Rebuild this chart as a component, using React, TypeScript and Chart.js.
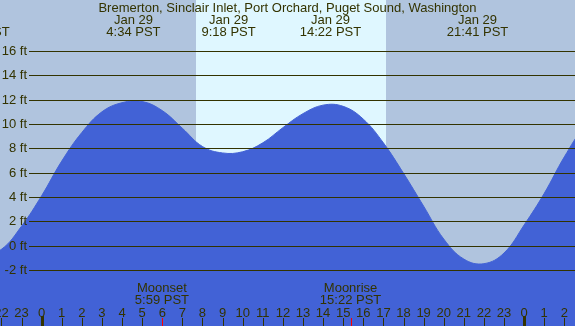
import React, { useEffect, useRef } from "react";
import { Chart, registerables } from "chart.js";

Chart.register(...registerables);

// ---- data ----
const TITLE = "Bremerton, Sinclair Inlet, Port Orchard, Puget Sound, Washington";

// hours relative to Jan 29 00:00 PST, tide height in feet (read hourly)
const TIDE_HOURS = [-4, -3, -2, -1, 0, 1, 2, 3, 4, 5, 6, 7, 8, 9, 10, 11, 12, 13, 14, 15, 16, 17, 18, 19, 20, 21, 22, 23, 24, 25, 26, 27, 28];
const TIDE_FEET = [-0.5, -0.85, -0.3, 1.6, 4.1, 6.95, 9.3, 11.0, 11.75, 11.85, 11.1, 9.65, 8.15, 7.62, 7.72, 8.45, 9.7, 10.85, 11.55, 11.45, 10.4, 8.45, 5.95, 3.25, 0.55, -1.1, -1.48, -0.6, 1.7, 4.3, 7.3, 9.8, 11.3];

const EXTREME_HOURS = [-3.12, 4.567, 9.3, 14.367, 21.683];
const EXTREME_DATES = ["Jan 28", "Jan 29", "Jan 29", "Jan 29", "Jan 29"];
const EXTREME_TIMES = ["20:53 PST", "4:34 PST", "9:18 PST", "14:22 PST", "21:41 PST"];

const MOON_HOURS = [5.983, 15.367];
const MOON_NAMES = ["Moonset", "Moonrise"];
const MOON_TIMES = ["5:59 PST", "15:22 PST"];

const SUNRISE = 7.66;
const SUNSET = 17.13;

const Y_TICKS = [-2, 0, 2, 4, 6, 8, 10, 12, 14, 16];
const HOUR_TICKS = [-2, -1, 0, 1, 2, 3, 4, 5, 6, 7, 8, 9, 10, 11, 12, 13, 14, 15, 16, 17, 18, 19, 20, 21, 22, 23, 24, 25, 26];

const X_MIN = -2.07;
const X_MAX = 26.53;
const Y_MIN = -6.6;
const Y_MAX = 20.19;

// ---- styles ----
const NIGHT = "#B0C4DE";
const DAY = "#DFF7FF";
const WATER = "#4262D6";
const INK = "#333300";
const FONT = "13px 'Liberation Sans', Arial, sans-serif";

const tidePlugin = {
  id: "tideDecor",
  beforeDatasetsDraw(chart: any) {
    const { ctx, chartArea, scales } = chart;
    const xs = scales.x;
    ctx.save();
    ctx.fillStyle = NIGHT;
    ctx.fillRect(chartArea.left, chartArea.top, chartArea.right - chartArea.left, chartArea.bottom - chartArea.top);
    const x1 = Math.round(xs.getPixelForValue(SUNRISE));
    const x2 = Math.round(xs.getPixelForValue(SUNSET));
    ctx.fillStyle = DAY;
    ctx.fillRect(x1, chartArea.top, x2 - x1, chartArea.bottom - chartArea.top);
    ctx.restore();
  },
  afterDatasetsDraw(chart: any) {
    const { ctx, chartArea, scales } = chart;
    const xs = scales.x;
    const ys = scales.y;
    ctx.save();
    ctx.font = FONT;
    ctx.fillStyle = INK;
    ctx.strokeStyle = INK;
    ctx.lineWidth = 1;

    // horizontal grid + labels
    Y_TICKS.forEach((v) => {
      const y = Math.round(ys.getPixelForValue(v)) + 0.5;
      ctx.beginPath();
      ctx.moveTo(29, y);
      ctx.lineTo(chartArea.right, y);
      ctx.stroke();
      ctx.textAlign = "right";
      ctx.textBaseline = "middle";
      ctx.fillText(`${v} ft`, 27, y);
    });

    // title
    ctx.textAlign = "center";
    ctx.textBaseline = "alphabetic";
    ctx.fillText(TITLE, (chartArea.left + chartArea.right) / 2, 12);

    // extremes
    EXTREME_HOURS.forEach((h, i) => {
      const x = xs.getPixelForValue(h);
      ctx.fillText(EXTREME_DATES[i], x, 24);
      ctx.fillText(EXTREME_TIMES[i], x, 36);
    });

    // hour labels and ticks
    HOUR_TICKS.forEach((h) => {
      const x = xs.getPixelForValue(h);
      const lab = ((h % 24) + 24) % 24;
      ctx.fillStyle = INK;
      ctx.textAlign = "center";
      ctx.fillText(String(lab), x, 316.5);
      const xp = Math.round(x);
      if (lab === 0) {
        ctx.fillRect(xp - 1, 316, 3, chartArea.bottom - 316);
      } else {
        ctx.fillRect(xp, 318, 1, chartArea.bottom - 318);
      }
    });

    // moon events
    MOON_HOURS.forEach((h, i) => {
      const x = xs.getPixelForValue(h);
      ctx.fillStyle = INK;
      ctx.textAlign = "center";
      ctx.fillText(MOON_NAMES[i], x, 291.5);
      ctx.fillText(MOON_TIMES[i], x, 303.5);
      ctx.fillStyle = "#FF0000";
      ctx.fillRect(Math.round(x), 318, 1, chartArea.bottom - 318);
    });

    ctx.restore();
  },
};

export default function App() {
  const ref = useRef<HTMLCanvasElement | null>(null);

  useEffect(() => {
    document.body.style.margin = "0";
    const canvas = ref.current;
    if (!canvas) return;
    const points = TIDE_HOURS.map((h, i) => ({ x: h, y: TIDE_FEET[i] }));
    const chart = new Chart(canvas, {
      type: "line",
      data: {
        datasets: [
          {
            data: points,
            borderColor: WATER,
            borderWidth: 1,
            backgroundColor: WATER,
            fill: "start",
            pointRadius: 0,
            tension: 0.4,
          },
        ],
      },
      options: {
        responsive: false,
        animation: false,
        layout: { padding: 0 },
        plugins: { legend: { display: false }, tooltip: { enabled: false }, title: { display: false } },
        scales: {
          x: { type: "linear", min: X_MIN, max: X_MAX, display: false },
          y: { type: "linear", min: Y_MIN, max: Y_MAX, display: false },
        },
        events: [],
      },
      plugins: [tidePlugin],
    });
    return () => chart.destroy();
  }, []);

  return (
    <div style={{ position: "fixed", left: 0, top: 0, width: 575, height: 326 }}>
      <canvas ref={ref} width={575} height={326} style={{ display: "block" }} />
    </div>
  );
}
